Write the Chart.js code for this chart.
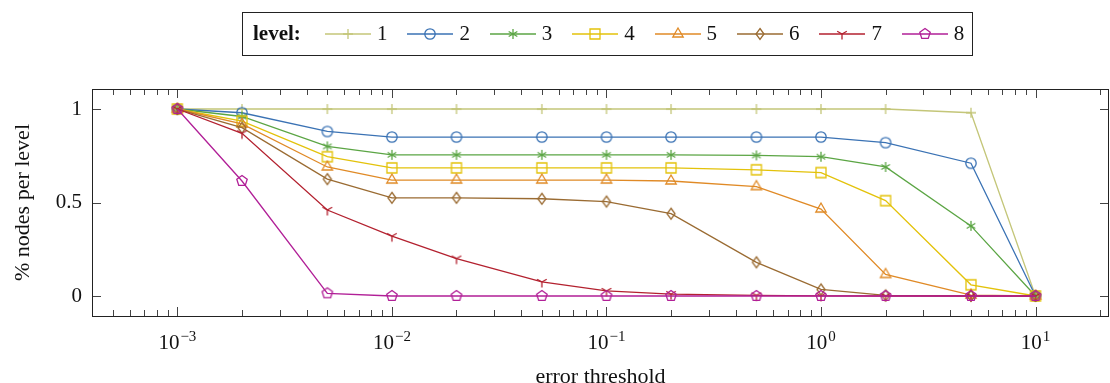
<!DOCTYPE html>
<html>
<head>
<meta charset="utf-8">
<script src="https://cdn.jsdelivr.net/npm/chart.js@4.4.1/dist/chart.umd.min.js"></script>
<style>
  html, body { margin: 0; padding: 0; background: #fff; overflow: hidden; }
  body { width: 1110px; height: 383px; position: relative; font-family: "Liberation Serif", "DejaVu Serif", serif; }
  #wrap { position: absolute; left: 0; top: 0; width: 1110px; height: 390px; }
  #legend { position: absolute; left: 242px; top: 12px; width: 731px; height: 44px; border: 1px solid #222;
            box-sizing: border-box; font-size: 21px; color: #111; }
  #legend .title { position: absolute; left: 10px; top: 8px; font-weight: bold; }
  #legend .item { position: absolute; top: 8px; height: 24px; }
  #legend canvas { position: absolute; left: 0; top: 3px; }
  #legend .lab { position: absolute; left: 52px; top: 0; }
</style>
</head>
<body>
<div id="wrap"><canvas id="myChart" width="1110" height="390"></canvas></div>
<div id="legend"><span class="title">level:</span></div>
<script>
// data
const thresholds = [0.001, 0.002, 0.005, 0.01, 0.02, 0.05, 0.1, 0.2, 0.5, 1, 2, 5, 10];
const level1 = [1, 1, 1, 1, 1, 1, 1, 1, 1, 1, 1, 0.98, 0];
const level2 = [1, 0.98, 0.88, 0.85, 0.85, 0.85, 0.85, 0.85, 0.85, 0.85, 0.82, 0.71, 0];
const level3 = [1, 0.96, 0.8, 0.755, 0.755, 0.755, 0.755, 0.755, 0.752, 0.745, 0.69, 0.375, 0];
const level4 = [1, 0.935, 0.745, 0.685, 0.685, 0.685, 0.685, 0.685, 0.675, 0.66, 0.51, 0.06, 0];
const level5 = [1, 0.92, 0.69, 0.62, 0.62, 0.62, 0.62, 0.615, 0.585, 0.465, 0.115, 0.005, 0];
const level6 = [1, 0.9, 0.625, 0.525, 0.525, 0.52, 0.505, 0.44, 0.18, 0.035, 0.003, 0, 0];
const level7 = [1, 0.87, 0.46, 0.32, 0.2, 0.075, 0.027, 0.01, 0.003, 0.001, 0, 0, 0];
const level8 = [1, 0.615, 0.014, 0, 0, 0, 0, 0, 0, 0, 0, 0, 0];

const seriesNames = ["1", "2", "3", "4", "5", "6", "7", "8"];
const seriesValues = [level1, level2, level3, level4, level5, level6, level7, level8];
const seriesColors = ["#c4c679", "#3a72b4", "#5ba544", "#e3c20a", "#e08a26", "#9a6b32", "#b3212f", "#b11f97"];
const seriesMarkers = ["plus", "circle", "asterisk", "square", "triangle", "diamond", "tri", "pentagon"];

const xMajorTicks = [0.001, 0.01, 0.1, 1, 10];
const xTickBase = "10";
const xTickExp = ["\u22123", "\u22122", "\u22121", "0", "1"];
const yTicks = [0, 0.5, 1];
const yTickLabels = ["0", "0.5", "1"];

const X_MIN = 4e-4, X_MAX = 22;
const Y_MIN = -0.107, Y_MAX = 1.107;
const FONT = "'Liberation Serif', 'DejaVu Serif', serif";

// minor tick positions (2..9 per decade) inside the axis range
const xMinorTicks = [];
[0.0001].concat(xMajorTicks).forEach((d) => {
  for (let k = 2; k <= 9; k++) {
    const v = k * d;
    if (v > X_MIN && v < X_MAX) xMinorTicks.push(v);
  }
});

// draw one marker shape centred at (cx, cy)
function drawMarker(ctx, kind, cx, cy, color) {
  ctx.save();
  ctx.strokeStyle = color;
  ctx.lineWidth = 1.3;
  ctx.beginPath();
  if (kind === "plus") {
    ctx.moveTo(cx - 5, cy); ctx.lineTo(cx + 5, cy);
    ctx.moveTo(cx, cy - 5); ctx.lineTo(cx, cy + 5);
  } else if (kind === "circle") {
    ctx.arc(cx, cy, 5.2, 0, Math.PI * 2);
  } else if (kind === "asterisk") {
    [90, 30, -30].forEach((a) => {
      const r = a * Math.PI / 180;
      ctx.moveTo(cx - 5 * Math.cos(r), cy - 5 * Math.sin(r));
      ctx.lineTo(cx + 5 * Math.cos(r), cy + 5 * Math.sin(r));
    });
  } else if (kind === "square") {
    ctx.rect(cx - 5, cy - 5, 10, 10);
  } else if (kind === "triangle") {
    ctx.moveTo(cx, cy - 6);
    ctx.lineTo(cx + 5.2, cy + 3);
    ctx.lineTo(cx - 5.2, cy + 3);
    ctx.closePath();
  } else if (kind === "diamond") {
    ctx.moveTo(cx, cy - 5.5);
    ctx.lineTo(cx + 4, cy);
    ctx.lineTo(cx, cy + 5.5);
    ctx.lineTo(cx - 4, cy);
    ctx.closePath();
  } else if (kind === "tri") {
    ctx.moveTo(cx, cy); ctx.lineTo(cx, cy + 5.5);
    ctx.moveTo(cx, cy); ctx.lineTo(cx - 4.8, cy - 2.8);
    ctx.moveTo(cx, cy); ctx.lineTo(cx + 4.8, cy - 2.8);
  } else if (kind === "pentagon") {
    for (let i = 0; i < 5; i++) {
      const a = -Math.PI / 2 + i * 2 * Math.PI / 5;
      const px = cx + 5.5 * Math.cos(a), py = cy + 5.5 * Math.sin(a);
      if (i === 0) ctx.moveTo(px, py); else ctx.lineTo(px, py);
    }
    ctx.closePath();
  }
  ctx.stroke();
  ctx.restore();
}

function markerCanvas(kind, color) {
  const c = document.createElement("canvas");
  c.width = 16; c.height = 16;
  drawMarker(c.getContext("2d"), kind, 8, 8, color);
  return c;
}

// html legend, boxed, one line
const legend = document.getElementById("legend");
seriesNames.forEach((name, i) => {
  const item = document.createElement("span");
  item.className = "item";
  item.style.left = (82 + i * 82.4) + "px";
  const cv = document.createElement("canvas");
  cv.width = 46; cv.height = 20;
  const ctx = cv.getContext("2d");
  ctx.strokeStyle = seriesColors[i];
  ctx.lineWidth = 1.3;
  ctx.beginPath(); ctx.moveTo(0, 10); ctx.lineTo(46, 10); ctx.stroke();
  drawMarker(ctx, seriesMarkers[i], 23, 10, seriesColors[i]);
  const lab = document.createElement("span");
  lab.className = "lab";
  lab.textContent = name;
  item.appendChild(cv);
  item.appendChild(lab);
  legend.appendChild(item);
});

// frame, inward ticks on all four sides, and 10^n labels with a raised exponent
const frameTicks = {
  id: "frameTicks",
  afterDraw(chart) {
    const { ctx, chartArea: a } = chart;
    const xs = chart.scales.x, ys = chart.scales.y;
    ctx.save();
    ctx.lineWidth = 1;
    ctx.strokeStyle = "#444";
    ctx.beginPath();
    const tick = (v, len) => {
      const px = Math.round(xs.getPixelForValue(v)) + 0.5;
      ctx.moveTo(px, a.bottom); ctx.lineTo(px, a.bottom - len);
      ctx.moveTo(px, a.top); ctx.lineTo(px, a.top + len);
    };
    xMajorTicks.forEach((v) => tick(v, 9));
    xMinorTicks.forEach((v) => tick(v, 6));
    yTicks.forEach((v) => {
      const py = Math.round(ys.getPixelForValue(v)) + 0.5;
      ctx.moveTo(a.left, py); ctx.lineTo(a.left + 9, py);
      ctx.moveTo(a.right, py); ctx.lineTo(a.right - 9, py);
    });
    ctx.stroke();
    ctx.strokeStyle = "#222";
    ctx.strokeRect(Math.round(a.left) + 0.5, Math.round(a.top) + 0.5,
      Math.round(a.right - a.left) - 1, Math.round(a.bottom - a.top));

    ctx.fillStyle = "#111";
    ctx.textBaseline = "alphabetic";
    ctx.textAlign = "left";
    xMajorTicks.forEach((v, i) => {
      const px = xs.getPixelForValue(v);
      ctx.font = "21px " + FONT;
      const w1 = ctx.measureText(xTickBase).width;
      ctx.font = "15px " + FONT;
      const w2 = ctx.measureText(xTickExp[i]).width;
      const x0 = px - (w1 + 1 + w2) / 2;
      ctx.font = "21px " + FONT;
      ctx.fillText(xTickBase, x0, a.bottom + 33);
      ctx.font = "15px " + FONT;
      ctx.fillText(xTickExp[i], x0 + w1 + 1, a.bottom + 25);
    });
    ctx.restore();
  },
};

const datasets = seriesValues.map((vals, i) => ({
  label: seriesNames[i],
  data: thresholds.map((t, j) => ({ x: t, y: vals[j] })),
  borderColor: seriesColors[i],
  backgroundColor: seriesColors[i],
  borderWidth: 1.3,
  pointStyle: markerCanvas(seriesMarkers[i], seriesColors[i]),
  pointRadius: 5,
  tension: 0,
  order: 8 - i,
}));

const config = {
  type: "line",
  data: { datasets },
  options: {
    responsive: false,
    animation: false,
    layout: { autoPadding: false, padding: { top: 89, right: 1, left: 0, bottom: 0 } },
    plugins: { legend: { display: false }, tooltip: { enabled: false } },
    scales: {
      x: {
        type: "logarithmic",
        min: X_MIN,
        max: X_MAX,
        afterBuildTicks: (scale) => {
          scale.ticks = xMajorTicks.map((v) => ({ value: v, major: true }));
        },
        afterFit: (scale) => {
          scale.height = 74;
          scale.paddingLeft = 0;
          scale.paddingRight = 0;
        },
        grid: { display: false, drawTicks: false },
        border: { display: false },
        ticks: { display: false },
        title: {
          display: true,
          text: "error threshold",
          color: "#111",
          font: { family: FONT, size: 22 },
          padding: { top: 0, bottom: 0 },
        },
      },
      y: {
        min: Y_MIN,
        max: Y_MAX,
        afterBuildTicks: (scale) => {
          scale.ticks = yTicks.map((v) => ({ value: v }));
        },
        afterFit: (scale) => { scale.width = 92; },
        grid: { display: false, drawTicks: false },
        border: { display: false },
        ticks: {
          padding: 10,
          color: "#111",
          font: { family: FONT, size: 21 },
          callback: (value) => {
            const k = yTicks.indexOf(value);
            return k >= 0 ? yTickLabels[k] : "";
          },
        },
        title: {
          display: true,
          text: "% nodes per level",
          color: "#111",
          font: { family: FONT, size: 22 },
          padding: { top: 10, bottom: 0 },
        },
      },
    },
  },
  plugins: [frameTicks],
};

const myChart = new Chart(document.getElementById("myChart"), config);
</script>
</body>
</html>
